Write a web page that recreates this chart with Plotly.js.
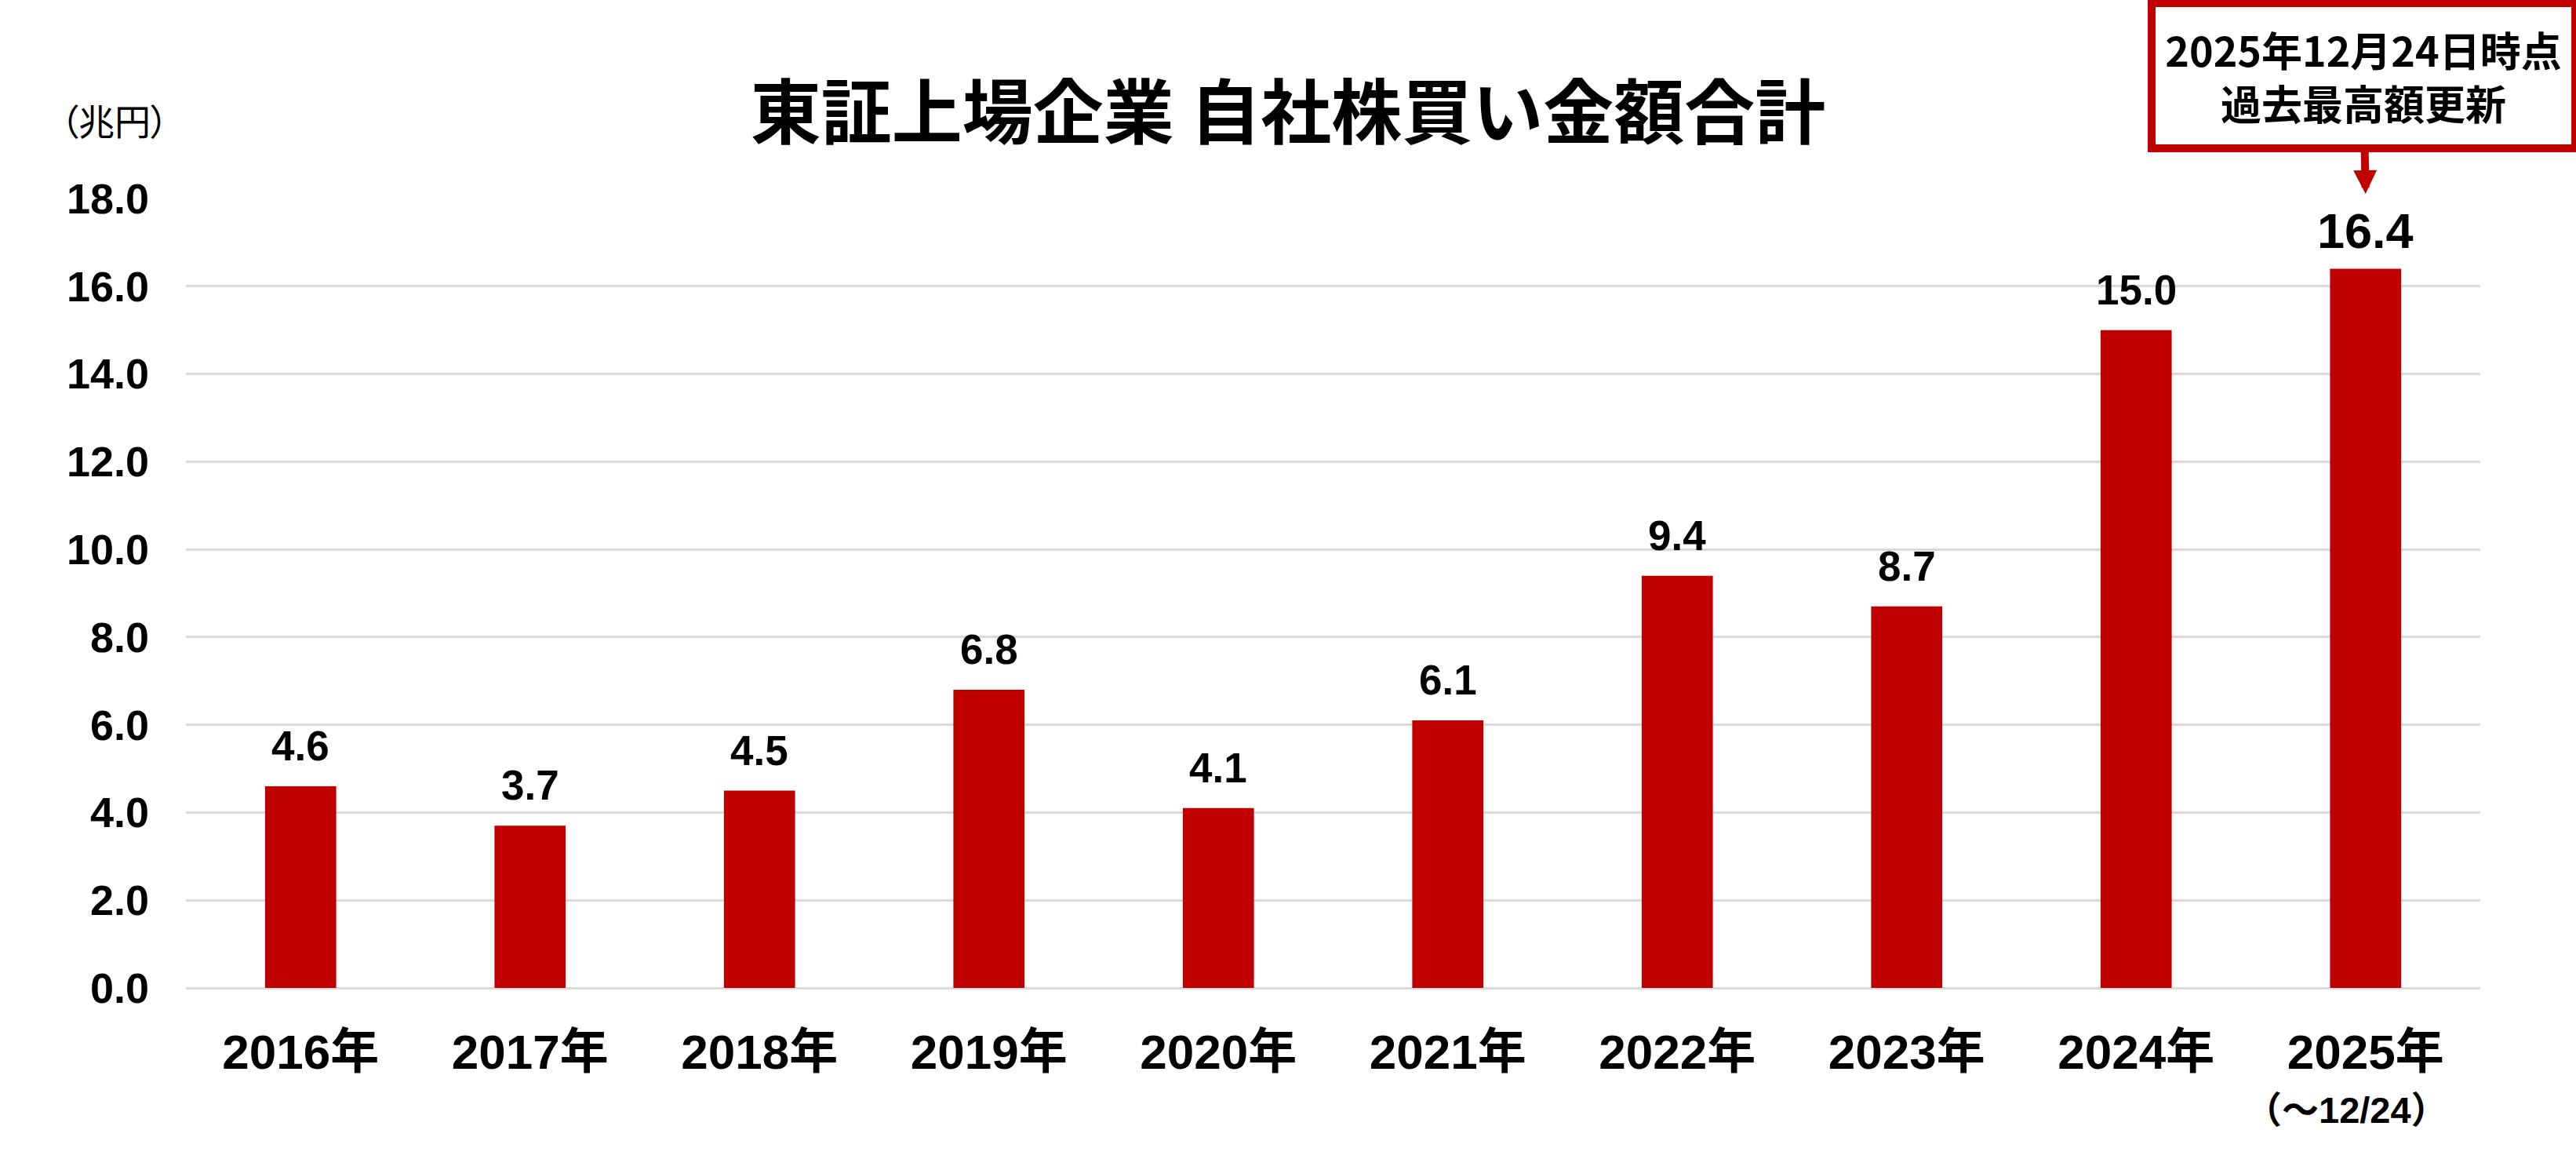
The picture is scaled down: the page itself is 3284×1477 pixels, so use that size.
<!DOCTYPE html>
<html>
<head>
<meta charset="utf-8">
<script src="https://cdn.plot.ly/plotly-3.0.1.min.js"></script>
<style>
  html, body { margin: 0; padding: 0; background: #ffffff; }
  #chart { width: 3284px; height: 1477px; }
  .annotation[data-index="0"] .annotation-text { font-feature-settings: "palt" 1; }
</style>
</head>
<body>
<div id="chart"></div>
<script>
// ---- data ----
const years = ["2016年", "2017年", "2018年", "2019年", "2020年", "2021年", "2022年", "2023年", "2024年", "2025年"];
const buybackTrillionYen = [4.6, 3.7, 4.5, 6.8, 4.1, 6.1, 9.4, 8.7, 15.0, 16.4];
const yTickValues = [0, 2, 4, 6, 8, 10, 12, 14, 16, 18];
const chartTitle = "東証上場企業 自社株買い金額合計";
const unitLabel = "（兆円）";
const latestPeriodNote = "（～12/24）";
const calloutText = "2025年12月24日時点<br>過去最高額更新";

// ---- styles ----
const RED = "#C00000";
const NUM_FONT = "Liberation Sans, Arial, Noto Sans CJK JP, sans-serif";
const JP_FONT = "Noto Sans CJK JP, sans-serif";

const lastIdx = years.length - 1;

const annotations = [];
// unit label (index 0)
annotations.push({
  text: unitLabel, xref: "paper", yref: "paper",
  x: -0.031, y: 1.1, xanchor: "center", yanchor: "middle",
  showarrow: false,
  font: { family: JP_FONT, size: 46, color: "#000000", weight: 400 }
});
// value labels
years.forEach((yr, i) => {
  const isLast = i === lastIdx;
  annotations.push({
    x: yr, y: buybackTrillionYen[i], xref: "x", yref: "y",
    text: buybackTrillionYen[i].toFixed(1),
    showarrow: false, xanchor: "center", yanchor: "bottom",
    yshift: isLast ? 11 : 20,
    font: { family: NUM_FONT, size: isLast ? 63 : 53, color: "#000000", weight: 700 }
  });
});
// sub label under last category
annotations.push({
  x: years[lastIdx], xref: "x", yref: "paper", y: -0.155,
  text: latestPeriodNote, showarrow: false,
  xanchor: "center", yanchor: "middle", xshift: -24,
  font: { family: NUM_FONT, size: 47, color: "#000000", weight: 700 }
});
// callout box with arrow
annotations.push({
  x: years[lastIdx], y: 1.006, xref: "x", yref: "paper",
  text: calloutText,
  showarrow: true, ax: -3, ay: -150,
  arrowcolor: RED, arrowwidth: 10, arrowhead: 2, arrowsize: 0.6, standoff: 0,
  bordercolor: RED, borderwidth: 10, borderpad: 0, bgcolor: "#ffffff",
  width: 530, height: 175, align: "center", valign: "middle",
  font: { family: JP_FONT, size: 52, color: "#000000", weight: 700 }
});

const trace = {
  type: "bar",
  x: years,
  y: buybackTrillionYen,
  marker: { color: RED, line: { width: 0 } },
  hoverinfo: "skip"
};

const layout = {
  width: 3284, height: 1477,
  paper_bgcolor: "#ffffff", plot_bgcolor: "#ffffff",
  margin: { l: 237, r: 122, t: 253, b: 218, pad: 0 },
  showlegend: false,
  bargap: 0.69,
  title: {
    text: chartTitle,
    xref: "container", x: 0.5, xanchor: "center",
    yref: "container", y: 0.902, yanchor: "middle",
    font: { family: JP_FONT, size: 90, color: "#000000", weight: 700 }
  },
  xaxis: {
    type: "category",
    range: [-0.5, years.length - 0.5], autorange: false,
    showgrid: false, zeroline: false, showline: false,
    ticks: "", ticklabelstandoff: 40,
    tickfont: { family: NUM_FONT, size: 62, color: "#000000", weight: 700 }
  },
  yaxis: {
    range: [0, 18], autorange: false,
    tickvals: yTickValues, tickformat: ".1f",
    showgrid: true, gridcolor: "#D9D9D9", gridwidth: 3,
    zeroline: true, zerolinecolor: "#D9D9D9", zerolinewidth: 3,
    showline: false, ticks: "", ticklabelstandoff: 46,
    tickfont: { family: NUM_FONT, size: 54, color: "#000000", weight: 700 }
  },
  annotations: annotations,
  hovermode: false
};

Plotly.newPlot("chart", [trace], layout, { displayModeBar: false, staticPlot: true });
</script>
</body>
</html>
